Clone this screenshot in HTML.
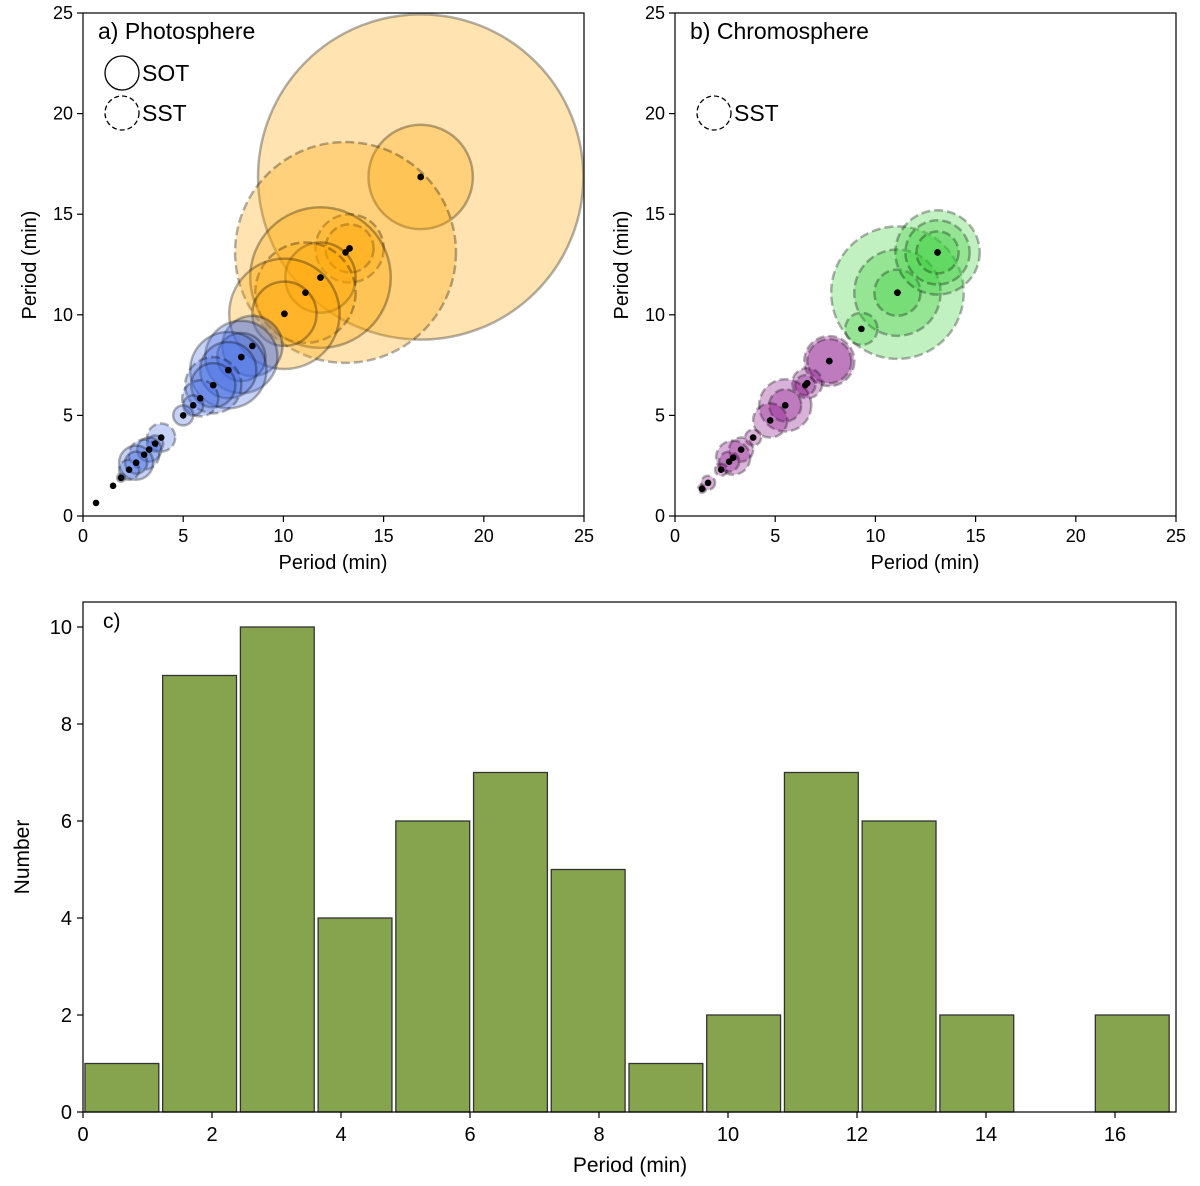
<!DOCTYPE html>
<html><head><meta charset="utf-8"><style>
body{margin:0;background:#fff}
text{font-family:"Liberation Sans","DejaVu Sans",sans-serif;fill:#000}
</style></head><body>
<svg id="fig" width="1200" height="1181" viewBox="0 0 1200 1181" xmlns="http://www.w3.org/2000/svg">
<g id="pa"></g>
<g id="pb"></g>
<g id="pc"></g>
</svg>
<script>
// Panel a data: period (min), radius (min), dashed flag (1 = SST), colour group
const aPeriods = [16.85,16.85,13.1,13.3,13.3,11.85,11.85,11.1,10.05,10.05,8.45,7.9,7.9,7.25,7.25,6.5,6.5,5.85,5.5,5.0,3.9,3.6,3.3,3.05,2.65,2.65,2.3,1.9,1.5,0.65];
const aRadii   = [8.1,2.6,5.5,1.7,1.2,3.5,1.75,2.5,2.75,1.6,1.5,1.8,1.2,1.9,1.4,1.4,1.1,0.9,0.5,0.5,0.7,0.4,0.6,0.75,0.85,0.55,0.5,0.2,0,0];
const aDashed  = [0,0,1,1,1,0,0,1,0,0,0,0,0,0,0,1,0,1,0,0,1,0,0,1,0,0,1,0,0,0];
const aGroup   = ['o','o','o','o','o','o','o','o','o','o','b','b','b','b','b','b','b','b','b','b','b','b','b','b','b','b','b','b','b','b'];
// Panel b data
const bPeriods = [11.1,11.1,11.1,13.1,13.1,13.1,9.3,7.7,7.7,6.6,6.5,5.5,5.5,4.75,3.9,3.3,2.9,2.7,2.3,1.65,1.35];
const bRadii   = [3.3,2.15,1.15,2.1,1.6,1.05,0.8,1.25,1.1,0.75,0.5,1.3,0.8,0.85,0.4,0.6,0.85,0.5,0.3,0.35,0.2];
const bGroup   = ['g','g','g','g','g','g','g','p','p','p','p','p','p','p','p','p','p','p','p','p','p'];
// Panel c histogram
const histCounts = [1,9,10,4,6,7,5,1,2,7,6,2,0,2];
const histStart = 0.0;
const histBinWidth = 1.205;
const scatterTicks = [0,5,10,15,20,25];
const histXTicks = [0,2,4,6,8,10,12,14,16];
const histYTicks = [0,2,4,6,8,10];

const NS='http://www.w3.org/2000/svg';
function mk(tag,attrs,parent){const e=document.createElementNS(NS,tag);for(const k in attrs)e.setAttribute(k,attrs[k]);parent.appendChild(e);return e;}
const fills={o:'rgba(255,165,0,0.3)',b:'rgba(65,105,225,0.3)',g:'rgba(50,205,50,0.3)',p:'rgba(128,0,128,0.3)'};

function scatterPanel(g,x0,periods,radii,dashed,groups,title,legend){
  const X=p=>x0+p*(501/25), Y=p=>516-p*(503/25), R=r=>r*20.08;
  const cg=mk('g',{},g);
  periods.forEach((p,i)=>{
    if(radii[i]<=0)return;
    const c=mk('circle',{cx:X(p),cy:Y(p),r:R(radii[i]),fill:fills[groups[i]],stroke:'rgba(0,0,0,0.3)','stroke-width':2.5},cg);
    if(dashed[i])c.setAttribute('stroke-dasharray','9,4');
    
    
  });
  periods.forEach((p,i)=>{
    const d=mk('circle',{cx:X(p),cy:Y(p),r:3.3,fill:'#000'},cg);
    
    
  });
  const frame=mk('rect',{x:x0,y:13,width:501,height:503,fill:'none',stroke:'#000','stroke-width':1.2},g);
  
  
  scatterTicks.forEach(t=>{
    mk('line',{x1:X(t),x2:X(t),y1:516,y2:522,stroke:'#000','stroke-width':1.2},g);
    const tx=mk('text',{x:X(t),y:542,'font-size':18,'text-anchor':'middle'},g);tx.textContent=t;
    
    
    mk('line',{x1:x0,x2:x0-6,y1:Y(t),y2:Y(t),stroke:'#000','stroke-width':1.2},g);
    const ty=mk('text',{x:x0-10,y:Y(t)+6,'font-size':18,'text-anchor':'end'},g);ty.textContent=t;
    
    
  });
  const xl=mk('text',{x:x0+250,y:569,'font-size':20,'text-anchor':'middle'},g);xl.textContent='Period (min)';
  
  
  const yl=mk('text',{x:0,y:0,'font-size':20,'text-anchor':'middle',transform:`translate(${x0-47},265) rotate(-90)`},g);yl.textContent='Period (min)';
  
  
  const tt=mk('text',{x:x0+15,y:39,'font-size':23},g);tt.textContent=title;
  
  
  legend.forEach(([lab,dash,y])=>{
    const lc=mk('circle',{cx:x0+39,cy:y,r:17,fill:'none',stroke:'#000','stroke-width':1.3},g);
    if(dash)lc.setAttribute('stroke-dasharray','5,3');
    
    
    const lt=mk('text',{x:x0+59,y:y+8,'font-size':23},g);lt.textContent=lab;
    
    
  });
}
scatterPanel(document.getElementById('pa'),83,aPeriods,aRadii,aDashed,aGroup,'a) Photosphere',[['SOT',0,73],['SST',1,113]]);
scatterPanel(document.getElementById('pb'),675,bPeriods,bRadii,bPeriods.map(()=>1),bGroup,'b) Chromosphere',[['SST',1,113]]);

(function(){
  const g=document.getElementById('pc');
  const X=v=>83+v*64.5, Y=v=>1112-v*48.5;
  histCounts.forEach((c,i)=>{
    if(c<=0)return;
    const e0=histStart+i*histBinWidth, pad=histBinWidth*0.025;
    const b=mk('rect',{x:X(e0+pad),y:Y(c),width:X(e0+histBinWidth-pad)-X(e0+pad),height:Y(0)-Y(c),fill:'#86a34d',stroke:'#333','stroke-width':1.3},g);
    
    
  });
  const fr=mk('rect',{x:83,y:602,width:1093,height:510,fill:'none',stroke:'#000','stroke-width':1.2},g);
  
  
  histXTicks.forEach(t=>{
    mk('line',{x1:X(t),x2:X(t),y1:1112,y2:1118,stroke:'#000','stroke-width':1.2},g);
    const tx=mk('text',{x:X(t),y:1141,'font-size':20,'text-anchor':'middle'},g);tx.textContent=t;
    
    
  });
  histYTicks.forEach(t=>{
    mk('line',{x1:83,x2:77,y1:Y(t),y2:Y(t),stroke:'#000','stroke-width':1.2},g);
    const ty=mk('text',{x:72,y:Y(t)+7,'font-size':20,'text-anchor':'end'},g);ty.textContent=t;
    
    
  });
  const xl=mk('text',{x:630,y:1172,'font-size':21,'text-anchor':'middle'},g);xl.textContent='Period (min)';
  
  
  const yl=mk('text',{x:0,y:0,'font-size':21,'text-anchor':'middle',transform:'translate(29,857) rotate(-90)'},g);yl.textContent='Number';
  
  
  const tt=mk('text',{x:103,y:628,'font-size':21},g);tt.textContent='c)';
  
  
})();
</script>
</body></html>
